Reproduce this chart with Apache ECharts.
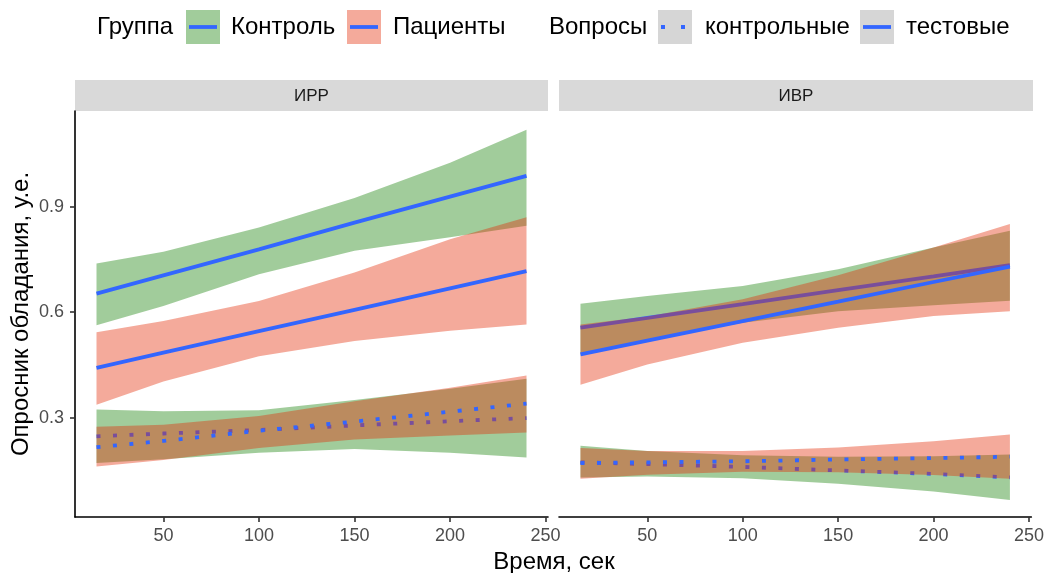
<!DOCTYPE html>
<html>
<head>
<meta charset="utf-8">
<script src="https://cdn.jsdelivr.net/npm/echarts@6/dist/echarts.min.js"></script>
<style>
  html, body { margin: 0; padding: 0; background: #ffffff; }
  #chart { width: 1047px; height: 573px; }
</style>
</head>
<body>
<div id="chart"></div>
<script>
// Time points (sec) at which the fitted curves and their confidence bands are given
const times = [15, 50, 100, 150, 200, 240];
const panels = ['ИРР', 'ИВР'];
const groups = ['Контроль', 'Пациенты'];
const questionTypes = ['контрольные', 'тестовые'];
const xTicks = [50, 100, 150, 200, 250];
const yTicks = [0.3, 0.6, 0.9];

// ИРР, Контроль
const irrControlTestFit   = [0.653, 0.705, 0.779, 0.855, 0.929, 0.988];
const irrControlTestLow   = [0.563, 0.618, 0.708, 0.775, 0.813, 0.846];
const irrControlTestHigh  = [0.739, 0.772, 0.841, 0.925, 1.025, 1.119];
const irrControlCtrlFit   = [0.247, 0.255, 0.265, 0.278, 0.290, 0.299];
const irrControlCtrlLow   = [0.171, 0.182, 0.200, 0.211, 0.200, 0.187];
const irrControlCtrlHigh  = [0.323, 0.318, 0.321, 0.350, 0.382, 0.411];
// ИРР, Пациенты
const irrPatientTestFit   = [0.442, 0.485, 0.546, 0.607, 0.668, 0.717];
const irrPatientTestLow   = [0.337, 0.403, 0.475, 0.518, 0.547, 0.565];
const irrPatientTestHigh  = [0.543, 0.575, 0.632, 0.713, 0.808, 0.870];
const irrPatientCtrlFit   = [0.216, 0.234, 0.263, 0.289, 0.317, 0.340];
const irrPatientCtrlLow   = [0.161, 0.180, 0.214, 0.238, 0.249, 0.258];
const irrPatientCtrlHigh  = [0.274, 0.280, 0.305, 0.347, 0.385, 0.420];
// ИВР, Контроль
const ivrControlTestFit   = [0.556, 0.584, 0.623, 0.663, 0.702, 0.734];
const ivrControlTestLow   = [0.483, 0.520, 0.570, 0.603, 0.620, 0.633];
const ivrControlTestHigh  = [0.624, 0.646, 0.675, 0.722, 0.784, 0.832];
const ivrControlCtrlFit   = [0.173, 0.168, 0.160, 0.150, 0.140, 0.130];
const ivrControlCtrlLow   = [0.130, 0.133, 0.128, 0.112, 0.090, 0.066];
const ivrControlCtrlHigh  = [0.220, 0.205, 0.193, 0.189, 0.190, 0.195];
// ИВР, Пациенты
const ivrPatientTestFit   = [0.480, 0.519, 0.575, 0.630, 0.686, 0.730];
const ivrPatientTestLow   = [0.394, 0.451, 0.513, 0.556, 0.589, 0.603];
const ivrPatientTestHigh  = [0.565, 0.588, 0.637, 0.705, 0.784, 0.851];
const ivrPatientCtrlFit   = [0.171, 0.173, 0.176, 0.181, 0.185, 0.189];
const ivrPatientCtrlLow   = [0.126, 0.138, 0.146, 0.145, 0.137, 0.126];
const ivrPatientCtrlHigh  = [0.214, 0.205, 0.205, 0.215, 0.233, 0.252];

const groupFill = { 'Контроль': 'rgba(20,128,5,0.4)', 'Пациенты': 'rgba(228,43,5,0.4)' };
const lineBlue = '#3366FF';
const lineWidth = 3.8;
const dotted = [4, 12.5];

// panel -> group -> question type -> {fit, low, high}
const curves = [
  {
    'Контроль': {
      'контрольные': { fit: irrControlCtrlFit, low: irrControlCtrlLow, high: irrControlCtrlHigh },
      'тестовые':    { fit: irrControlTestFit, low: irrControlTestLow, high: irrControlTestHigh }
    },
    'Пациенты': {
      'контрольные': { fit: irrPatientCtrlFit, low: irrPatientCtrlLow, high: irrPatientCtrlHigh },
      'тестовые':    { fit: irrPatientTestFit, low: irrPatientTestLow, high: irrPatientTestHigh }
    }
  },
  {
    'Контроль': {
      'контрольные': { fit: ivrControlCtrlFit, low: ivrControlCtrlLow, high: ivrControlCtrlHigh },
      'тестовые':    { fit: ivrControlTestFit, low: ivrControlTestLow, high: ivrControlTestHigh }
    },
    'Пациенты': {
      'контрольные': { fit: ivrPatientCtrlFit, low: ivrPatientCtrlLow, high: ivrPatientCtrlHigh },
      'тестовые':    { fit: ivrPatientTestFit, low: ivrPatientTestLow, high: ivrPatientTestHigh }
    }
  }
];

function ribbonSeries(panel, low, high, fill) {
  return {
    type: 'custom',
    xAxisIndex: panel,
    yAxisIndex: panel,
    silent: true,
    animation: false,
    data: [[times[0], low[0]]],
    renderItem: function (params, api) {
      const pts = [];
      for (let i = 0; i < times.length; i++) pts.push(api.coord([times[i], high[i]]));
      for (let i = times.length - 1; i >= 0; i--) pts.push(api.coord([times[i], low[i]]));
      return { type: 'polygon', shape: { points: pts }, style: { fill: fill, stroke: null } };
    }
  };
}

function fitSeries(panel, fit, qType) {
  return {
    type: 'line',
    xAxisIndex: panel,
    yAxisIndex: panel,
    silent: true,
    animation: false,
    symbol: 'none',
    showSymbol: false,
    data: times.map((t, i) => [t, fit[i]]),
    lineStyle: {
      color: lineBlue,
      width: lineWidth,
      type: qType === 'контрольные' ? dotted : 'solid',
      cap: 'butt'
    }
  };
}

// each group: its ribbons, then its fitted lines; the next group's ribbons cover them
const series = [];
panels.forEach((p, pi) => {
  groups.forEach(g => {
    questionTypes.forEach(q => series.push(ribbonSeries(pi, curves[pi][g][q].low, curves[pi][g][q].high, groupFill[g])));
    questionTypes.forEach(q => series.push(fitSeries(pi, curves[pi][g][q].fit, q)));
  });
});
series.forEach((s, i) => { s.z = 2 + i; });

const gridBox = [
  { left: 75, top: 111, width: 473, height: 406 },
  { left: 559, top: 111, width: 474, height: 406 }
];

const font = 'Liberation Sans, Arial, sans-serif';

const xAxes = gridBox.map((b, i) => ({
  type: 'value', gridIndex: i, min: 3.75, max: 251.25,
  axisLine: { show: true, onZero: false, lineStyle: { color: '#000000', width: 1.6 } },
  axisTick: { show: true, length: 5, customValues: xTicks, lineStyle: { color: '#333333', width: 1.6 } },
  axisLabel: { customValues: xTicks, color: '#4D4D4D', fontSize: 18, fontFamily: font, margin: 10 },
  splitLine: { show: false }
}));

const yAxes = gridBox.map((b, i) => ({
  type: 'value', gridIndex: i, min: 0.0175, max: 1.1725, show: i === 0,
  axisLine: { show: true, onZero: false, lineStyle: { color: '#000000', width: 1.6 } },
  axisTick: { show: true, length: 5, customValues: yTicks, lineStyle: { color: '#333333', width: 1.6 } },
  axisLabel: { customValues: yTicks, color: '#4D4D4D', fontSize: 18, fontFamily: font, margin: 11,
               formatter: v => v.toFixed(1) },
  splitLine: { show: false }
}));

const graphics = [];

// facet strips
gridBox.forEach((b, i) => {
  graphics.push({ type: 'rect', shape: { x: b.left, y: 80, width: b.width, height: 31 }, style: { fill: '#D9D9D9' }, silent: true });
  graphics.push({ type: 'text', x: b.left + b.width / 2, y: 96,
    style: { text: panels[i], fill: '#1A1A1A', font: '17px ' + font, textAlign: 'center', textVerticalAlign: 'middle' }, silent: true });
});

// axis titles
graphics.push({ type: 'text', x: 554, y: 562,
  style: { text: 'Время, сек', fill: '#000000', font: '24px ' + font, textAlign: 'center', textVerticalAlign: 'middle' }, silent: true });
graphics.push({ type: 'text', x: 21, y: 314, rotation: Math.PI / 2,
  style: { text: 'Опросник обладания, у.е.', fill: '#000000', font: '24px ' + font, textAlign: 'center', textVerticalAlign: 'middle' }, silent: true });

// legend
const legendY = 27;
function legendText(x, t) {
  graphics.push({ type: 'text', x: x, y: legendY,
    style: { text: t, fill: '#000000', font: '24px ' + font, textAlign: 'left', textVerticalAlign: 'middle' }, silent: true });
}
function legendKey(x, fill, dash) {
  graphics.push({ type: 'rect', shape: { x: x, y: 10, width: 34, height: 34 }, style: { fill: fill }, silent: true });
  graphics.push({ type: 'line', shape: { x1: x + 3, y1: legendY, x2: x + 31, y2: legendY },
    style: { stroke: lineBlue, lineWidth: lineWidth, lineDash: dash, lineCap: 'butt' }, silent: true });
}
legendText(97, 'Группа');
legendKey(186, groupFill['Контроль'], null);
legendText(231, groups[0]);
legendKey(347, groupFill['Пациенты'], null);
legendText(393, groups[1]);
legendText(549, 'Вопросы');
legendKey(658, 'rgba(153,153,153,0.4)', [4, 16]);
legendText(705, questionTypes[0]);
legendKey(860, 'rgba(153,153,153,0.4)', null);
legendText(906, questionTypes[1]);

const chart = echarts.init(document.getElementById('chart'), null, { renderer: 'canvas' });
chart.setOption({
  backgroundColor: '#ffffff',
  animation: false,
  grid: gridBox.map(b => Object.assign({ containLabel: false }, b)),
  xAxis: xAxes,
  yAxis: yAxes,
  series: series,
  graphic: graphics
});
</script>
</body>
</html>
